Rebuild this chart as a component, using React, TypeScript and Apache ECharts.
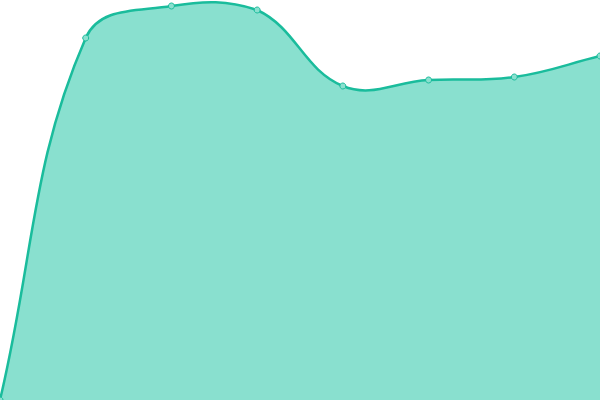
import React, { useEffect, useRef } from "react";
import * as echarts from "echarts";

const categories = ["A", "B", "C", "D", "E", "F", "G", "H"];
const values = [0, 362, 394, 390, 314, 320, 323, 344];
const yMin = 0;
const yMax = 400;
const tension = 0.4;

type P = { x: number; y: number };

function splinePath(pts: P[], area: { x: number; y: number; width: number; height: number }) {
  const cap = (v: number, lo: number, hi: number) => Math.max(Math.min(v, hi), lo);
  const cps = pts.map((cur, i) => {
    const prev = pts[i - 1] || cur;
    const next = pts[i + 1] || cur;
    const d01 = Math.hypot(cur.x - prev.x, cur.y - prev.y);
    const d12 = Math.hypot(next.x - cur.x, next.y - cur.y);
    let s01 = d01 / (d01 + d12);
    let s12 = d12 / (d01 + d12);
    if (isNaN(s01)) s01 = 0;
    if (isNaN(s12)) s12 = 0;
    const fa = tension * s01;
    const fb = tension * s12;
    const clampP = (p: P) => ({
      x: cap(p.x, area.x, area.x + area.width),
      y: cap(p.y, area.y, area.y + area.height),
    });
    return {
      prev: clampP({ x: cur.x - fa * (next.x - prev.x), y: cur.y - fa * (next.y - prev.y) }),
      next: clampP({ x: cur.x + fb * (next.x - prev.x), y: cur.y + fb * (next.y - prev.y) }),
    };
  });
  let d = `M${pts[0].x},${pts[0].y}`;
  for (let i = 1; i < pts.length; i++) {
    const a = cps[i - 1].next;
    const b = cps[i].prev;
    d += ` C${a.x},${a.y} ${b.x},${b.y} ${pts[i].x},${pts[i].y}`;
  }
  return d;
}

export default function App() {
  const ref = useRef<HTMLDivElement>(null);
  useEffect(() => {
    if (!ref.current) return;
    const chart = echarts.init(ref.current, null, { renderer: "svg" });
    chart.setOption({
      animation: false,
      grid: { left: 0, right: 0, top: 0, bottom: 0 },
      xAxis: { type: "category", data: categories, boundaryGap: false, show: false },
      yAxis: { type: "value", min: yMin, max: yMax, show: false },
      series: [
        {
          type: "custom",
          data: [[0, 0]],
          clip: false,
          z: 1,
          renderItem: (params: any, api: any) => {
            const pts: P[] = values.map((v, i) => {
              const c = api.coord([i, v]);
              return { x: c[0], y: c[1] };
            });
            const cs = params.coordSys;
            const area = { x: cs.x, y: cs.y, width: cs.width, height: cs.height };
            const line = splinePath(pts, area);
            const baseY = api.coord([0, yMin])[1];
            const areaPath = `${line} L${pts[pts.length - 1].x},${baseY} L${pts[0].x},${baseY} Z`;
            return {
              type: "group",
              children: [
                {
                  type: "path",
                  shape: { pathData: areaPath },
                  style: { fill: "#89e0cf", stroke: "none" },
                },
                {
                  type: "path",
                  shape: { pathData: line },
                  style: { fill: "none", stroke: "#1abc9c", lineWidth: 2.5 },
                },
              ],
            };
          },
        },
        {
          type: "line",
          data: values,
          z: 3,
          symbol: "circle",
          symbolSize: 6,
          showSymbol: true,
          itemStyle: { color: "#8ae0cf", borderColor: "#1abc9c", borderWidth: 1 },
          lineStyle: { width: 0, opacity: 0 },
        },
      ],
    });
    return () => chart.dispose();
  }, []);
  return (
    <div
      ref={ref}
      style={{ position: "absolute", left: 0, top: 0, width: 600, height: 400 }}
    />
  );
}
